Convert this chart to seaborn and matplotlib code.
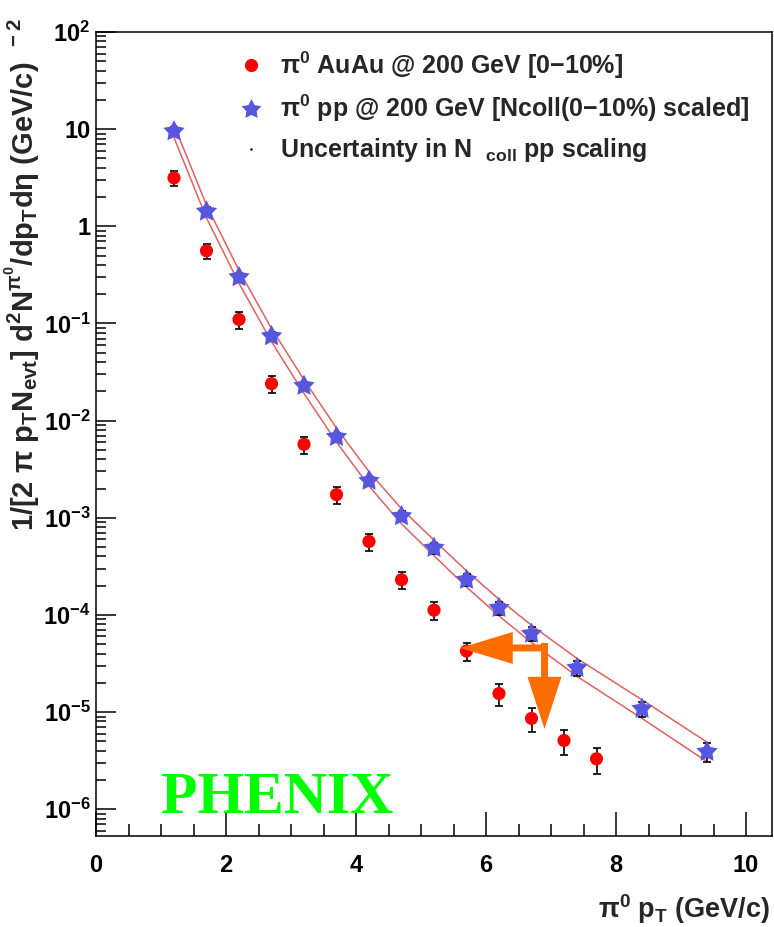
import numpy as np
import pandas as pd
import matplotlib
matplotlib.use("Agg")
import matplotlib.pyplot as plt
import seaborn as sns
from matplotlib.path import Path
from matplotlib.markers import MarkerStyle
from matplotlib.lines import Line2D
from matplotlib.ticker import FixedLocator, FixedFormatter, LogLocator, NullFormatter, MultipleLocator

# ---- data -------------------------------------------------------------
# Au+Au 0-10% central pi0 yields
au_pt = [1.2, 1.7, 2.2, 2.7, 3.2, 3.7, 4.2, 4.7, 5.2, 5.7, 6.2, 6.7, 7.2, 7.7]
au_yield = [3.15, 0.56, 0.11, 0.024, 0.0057, 0.00173, 5.7e-4, 2.3e-4, 1.12e-4,
            4.25e-5, 1.55e-5, 8.6e-6, 5.1e-6, 3.3e-6]
au_relerr = [0.18, 0.18, 0.2, 0.2, 0.2, 0.2, 0.2, 0.2, 0.2, 0.22, 0.25, 0.27, 0.29, 0.3]

# p+p pi0 yields scaled by Ncoll (0-10%)
pp_pt = [1.2, 1.7, 2.2, 2.7, 3.2, 3.7, 4.2, 4.7, 5.2, 5.7, 6.2, 6.7, 7.4, 8.4, 9.4]
pp_yield = [9.5, 1.42, 0.30, 0.074, 0.0228, 0.0068, 0.0024, 1.04e-3, 4.9e-4,
            2.3e-4, 1.18e-4, 6.4e-5, 2.85e-5, 1.08e-5, 3.9e-6]
pp_relerr = [0.1, 0.1, 0.1, 0.1, 0.1, 0.1, 0.1, 0.12, 0.13, 0.14, 0.15, 0.16,
             0.17, 0.18, 0.22]

# Ncoll scaling uncertainty band (upper / lower edges)
band_pt = pp_pt
band_upper = [11.04, 1.652, 0.352, 0.0887, 0.0263, 0.00836, 0.00298, 1.236e-3,
              5.89e-4, 2.84e-4, 1.449e-4, 7.83e-5, 3.56e-5, 1.337e-5, 4.9e-6]
band_lower = [8.18, 1.219, 0.259, 0.0649, 0.01905, 0.0060, 0.00212, 8.67e-4,
              4.07e-4, 1.936e-4, 9.75e-5, 5.2e-5, 2.33e-5, 8.59e-6, 3.09e-6]

# axis ticks
ytick_vals = [1e-6, 1e-5, 1e-4, 1e-3, 1e-2, 1e-1, 1, 10, 100]
ytick_labels = [r"10$^{-6}$", r"10$^{-5}$", r"10$^{-4}$", r"10$^{-3}$", r"10$^{-2}$",
                r"10$^{-1}$", "1", "10", r"10$^{2}$"]
xtick_vals = [0, 2, 4, 6, 8, 10]
xtick_labels = ["0", "2", "4", "6", "8", "10"]

# suppression arrows (shift in pT and in yield)
arrow_left_start = (6.95, 4.57e-5)
arrow_left_tip = (5.6, 4.57e-5)
arrow_down_start = (6.9, 5.14e-5)
arrow_down_tip = (6.9, 6.7e-6)

legend_labels = [r"$\pi^{0}$ AuAu @ 200 GeV [0$-$10%]",
                 r"$\pi^{0}$ pp @ 200 GeV [Ncoll(0$-$10%) scaled]",
                 r"Uncertainty in N  $_{\mathrm{coll}}$ pp scaling"]

# ---- style --------------------------------------------------------------
sns.set_style("ticks")
plt.rcParams["font.family"] = ["Liberation Sans", "DejaVu Sans"]
plt.rcParams["font.weight"] = "bold"
plt.rcParams["mathtext.fontset"] = "custom"
plt.rcParams["mathtext.rm"] = "Liberation Sans:bold"
plt.rcParams["mathtext.it"] = "Liberation Sans:bold"
plt.rcParams["mathtext.bf"] = "Liberation Sans:bold"
plt.rcParams["mathtext.sf"] = "Liberation Sans:bold"
plt.rcParams["mathtext.default"] = "rm"

RED = "#ff0000"
BLUE = "#5656de"
BAND = "#e06060"
ORANGE = "#ff6c00"

# fat five-pointed star marker
ang = np.pi / 2 + np.arange(10) * np.pi / 5
rad = np.where(np.arange(10) % 2 == 0, 1.0, 0.52)
star_verts = np.column_stack([rad * np.cos(ang), rad * np.sin(ang)])
star_verts = np.vstack([star_verts, star_verts[:1]])
star_path = Path(star_verts, [Path.MOVETO] + [Path.LINETO] * 9 + [Path.CLOSEPOLY])
star_marker = MarkerStyle(star_path)

W, H = 774, 927
fig = plt.figure(figsize=(W / 100, H / 100), dpi=100)
ax = fig.add_axes([96 / W, (H - 836) / H, (772 - 96) / W, (836 - 32) / H])

au_df = pd.DataFrame({"pt": au_pt, "y": au_yield, "rel": au_relerr})
pp_df = pd.DataFrame({"pt": pp_pt, "y": pp_yield, "rel": pp_relerr})
band_df = pd.DataFrame({"pt": band_pt, "upper": band_upper, "lower": band_lower})

# uncertainty band edges
for col in ["upper", "lower"]:
    sns.lineplot(data=band_df, x="pt", y=col, ax=ax, color=BAND, linewidth=1.1,
                 sort=False, estimator=None, zorder=2)

# error bars
ax.errorbar(au_df["pt"], au_df["y"], yerr=au_df["y"] * au_df["rel"], fmt="none",
            ecolor="black", elinewidth=1.2, capsize=3.2, capthick=1.2, zorder=3)
ax.errorbar(pp_df["pt"], pp_df["y"], yerr=pp_df["y"] * pp_df["rel"], fmt="none",
            ecolor="black", elinewidth=1.2, capsize=3.2, capthick=1.2, zorder=3)

# markers
sns.scatterplot(data=pp_df, x="pt", y="y", ax=ax, marker=star_marker, s=260,
                color=BLUE, edgecolor="none", linewidth=0, zorder=4)
sns.scatterplot(data=au_df, x="pt", y="y", ax=ax, marker="o", s=90,
                color=RED, edgecolor="none", linewidth=0, zorder=4)

# arrows
for start, tip, hl, hw in [(arrow_left_start, arrow_left_tip, 3.8, 2.3),
                           (arrow_down_start, arrow_down_tip, 3.75, 2.45)]:
    ax.annotate("", xy=tip, xytext=start,
                arrowprops=dict(arrowstyle=f"simple,head_length={hl},head_width={hw},tail_width=0.5",
                                mutation_scale=10, color=ORANGE, shrinkA=0, shrinkB=0,
                                linewidth=0),
                zorder=5)

# axes
ax.set_yscale("log")
ax.set_xlim(0, 10.4)
ax.set_ylim(5.3e-7, 100)
ax.yaxis.set_major_locator(FixedLocator(ytick_vals))
ax.yaxis.set_major_formatter(FixedFormatter(ytick_labels))
ax.yaxis.set_minor_locator(LogLocator(base=10, subs=np.arange(2, 10)))
ax.yaxis.set_minor_formatter(NullFormatter())
ax.xaxis.set_major_locator(FixedLocator(xtick_vals))
ax.xaxis.set_major_formatter(FixedFormatter(xtick_labels))
ax.xaxis.set_minor_locator(MultipleLocator(0.5))

ax.tick_params(axis="both", which="both", direction="in", top=False, right=False,
               width=1.1, colors="black", labelsize=17)
ax.tick_params(axis="y", which="major", length=14.4, pad=4)
ax.tick_params(axis="y", which="minor", length=7.2)
ax.tick_params(axis="x", which="major", length=17, pad=13)
ax.tick_params(axis="x", which="minor", length=8.6)
for s in ax.spines.values():
    s.set_linewidth(1.1)
    s.set_color("black")

ax.set_xlabel(r"$\pi^{0}$ p$_{T}$ (GeV/c)", loc="right", fontsize=19.5,
              fontweight="bold")
ax.xaxis.set_label_coords(0.997, -0.07)
ax.set_ylabel(r"1/[2 $\pi$ p$_{T}$N$_{evt}$] d$^{2}$N$^{\pi^{0}}$/dp$_{T}$d$\eta$ (GeV/c)$^{\ \ -2}$",
              loc="top", fontsize=21, fontweight="bold")
ax.yaxis.set_label_coords(-0.08, 1.017)

# legend
handles = [Line2D([], [], linestyle="none", marker="o", markersize=9.5, color=RED,
                  markeredgewidth=0),
           Line2D([], [], linestyle="none", marker=star_marker, markersize=15, color=BLUE,
                  markeredgewidth=0),
           Line2D([], [], linestyle="none", marker=".", markersize=1.5, color="black")]
ax.legend(handles, legend_labels, loc="upper left", bbox_to_anchor=(0.2115, 0.978),
          frameon=False, fontsize=18, handlelength=1.0, handletextpad=0.65,
          borderpad=0, borderaxespad=0, labelspacing=0.48)

ax.text(0.096, 0.028, "PHENIX", transform=ax.transAxes, fontfamily="Liberation Serif",
        fontweight="bold", fontsize=43, color="#00ff00", va="baseline", ha="left")

fig.savefig("out.png", dpi=100)
